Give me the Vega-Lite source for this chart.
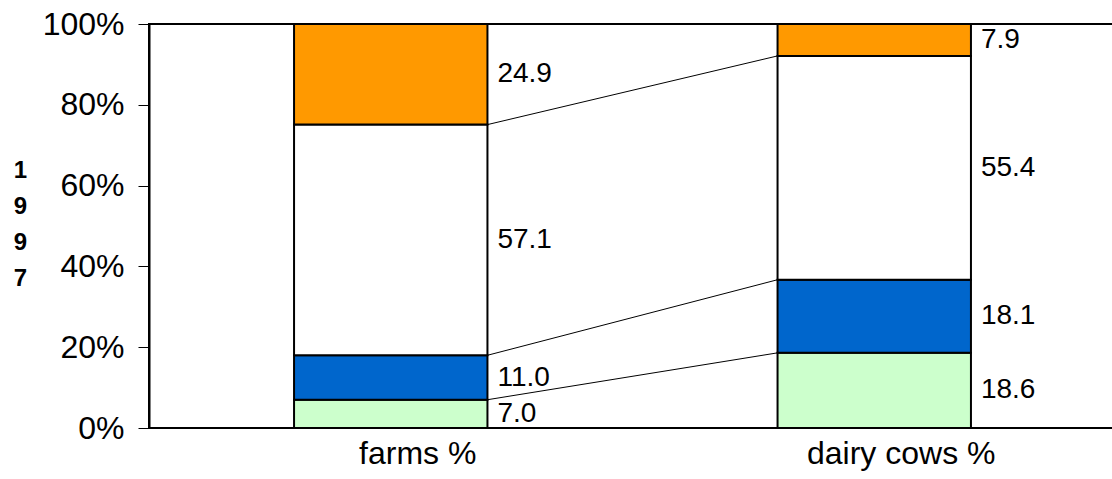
{
  "$schema": "https://vega.github.io/schema/vega-lite/v6.json",
  "width": 967,
  "height": 404,
  "autosize": "none",
  "padding": {"left": 149, "top": 24, "right": 0, "bottom": 51},
  "config": {
    "font": "Liberation Sans",
    "view": {"stroke": "black", "strokeWidth": 2},
    "axis": {"grid": false},
    "axisY": {"titleFontSize": 24, "titleFontWeight": "bold", "titleColor": "black"}
  },
  "data": {
    "values": [
      {"bar": "farms %", "seg": "a", "order": 1, "value": 7.0},
      {"bar": "farms %", "seg": "b", "order": 2, "value": 11.0},
      {"bar": "farms %", "seg": "c", "order": 3, "value": 57.1},
      {"bar": "farms %", "seg": "d", "order": 4, "value": 24.9},
      {"bar": "dairy cows %", "seg": "a", "order": 1, "value": 18.6},
      {"bar": "dairy cows %", "seg": "b", "order": 2, "value": 18.1},
      {"bar": "dairy cows %", "seg": "c", "order": 3, "value": 55.4},
      {"bar": "dairy cows %", "seg": "d", "order": 4, "value": 7.9}
    ]
  },
  "transform": [
    {"stack": "value", "groupby": ["bar"], "sort": [{"field": "order"}], "as": ["y0", "y1"]},
    {"calculate": "(datum.y0 + datum.y1) / 2", "as": "mid"}
  ],
  "layer": [
    {
      "mark": {"type": "bar", "stroke": "black", "strokeWidth": 2},
      "encoding": {
        "x": {
          "field": "bar", "type": "nominal", "sort": ["farms %", "dairy cows %"],
          "scale": {"paddingInner": 0.6, "paddingOuter": 0.3},
          "axis": {"title": null, "labelAngle": 0, "labelFontSize": 32, "labelColor": "black", "ticks": false, "domain": false, "labelPadding": 10, "labelLimit": 0, "labelOffset": 27}
        },
        "y": {
          "field": "y1", "type": "quantitative", "scale": {"domain": [0, 100], "nice": false},
          "axis": {
            "values": [0, 20, 40, 60, 80, 100],
            "labelExpr": "datum.value + '%'",
            "labelFontSize": 32, "labelColor": "black",
            "tickColor": "black", "tickSize": 11, "tickWidth": 1,
            "domainColor": "black", "domainWidth": 2,
            "labelPadding": 14,
            "title": ["1", "9", "9", "7"],
            "titleAngle": 0, "titleFontSize": 24, "titleFontWeight": "bold",
            "titleLineHeight": 36, "titleAlign": "center", "titleBaseline": "middle",
            "titleX": -129, "titleY": 146, "titleColor": "black"
          }
        },
        "y2": {"field": "y0"},
        "fill": {
          "field": "seg", "type": "nominal",
          "scale": {"domain": ["a", "b", "c", "d"], "range": ["#CCFFCC", "#0066CC", "#FFFFFF", "#FF9900"]},
          "legend": null
        }
      }
    },
    {
      "mark": {"type": "text", "align": "left", "baseline": "middle", "dx": 10, "fontSize": 28, "color": "black"},
      "encoding": {
        "x": {"field": "bar", "type": "nominal", "sort": ["farms %", "dairy cows %"], "bandPosition": 1},
        "y": {"field": "mid", "type": "quantitative"},
        "text": {"field": "value", "type": "quantitative", "format": ".1f"}
      }
    },
    {
      "transform": [
        {"pivot": "bar", "value": "y1", "groupby": ["seg"]},
        {"filter": "datum.seg != 'd'"}
      ],
      "mark": {"type": "rule", "color": "black", "strokeWidth": 1},
      "encoding": {
        "x": {"datum": "farms %", "type": "nominal", "bandPosition": 1},
        "x2": {"datum": "dairy cows %", "bandPosition": 0},
        "y": {"field": "farms %", "type": "quantitative"},
        "y2": {"field": "dairy cows %"}
      }
    }
  ]
}
